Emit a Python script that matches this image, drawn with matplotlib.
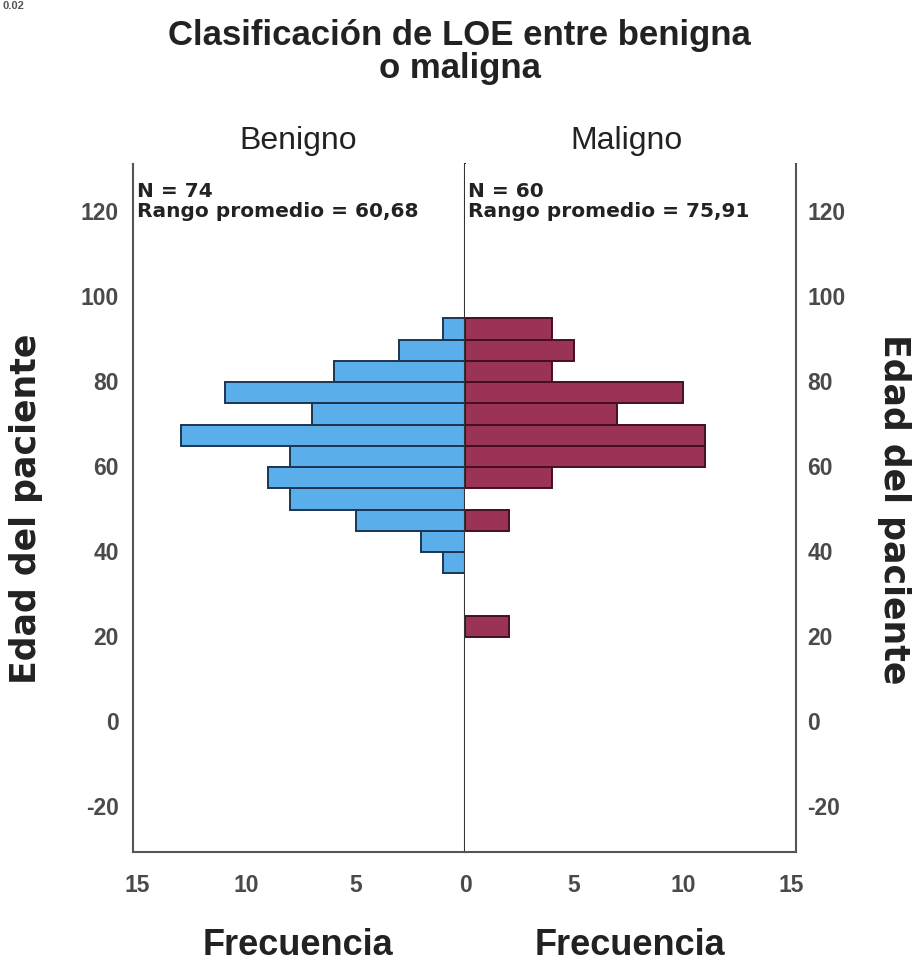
import numpy as np
import matplotlib
matplotlib.use("Agg")
import matplotlib.pyplot as plt

# Population pyramid: age of patient by LOE classification (benign vs malignant)
# bins are 5 years wide, centers below
bin_centers = [22, 27, 32, 37, 42, 47, 52, 57, 62, 67, 72, 77, 82, 87, 92]
benigno = [0, 0, 0, 1, 2, 5, 8, 9, 8, 13, 7, 11, 6, 3, 1]
maligno = [2, 0, 0, 0, 0, 2, 0, 4, 11, 11, 7, 10, 4, 5, 4]

y_ticks = [-20, 0, 20, 40, 60, 80, 100, 120]
x_ticks_left = [15, 10, 5, 0]
x_ticks_right = [5, 10, 15]

stats_benigno = ("N = 74", "Rango promedio = 60,68")
stats_maligno = ("N = 60", "Rango promedio = 75,91")

BLUE = "#5aaeea"
BLUE_EDGE = "#1c3550"
RED = "#9a3356"
RED_EDGE = "#45101f"
AXIS_COLOR = "#555555"
TICK_COLOR = "#4a4a4a"
TEXT_COLOR = "#222222"

plt.rcParams["font.family"] = ["Liberation Sans", "DejaVu Sans"]
plt.rcParams["axes.unicode_minus"] = False
WIDE = ["DejaVu Sans"]

fig = plt.figure(figsize=(9.19, 9.70), dpi=100)
ax_l = fig.add_axes([0.1447, 0.1206, 0.3613, 0.7093])
ax_r = fig.add_axes([0.5060, 0.1206, 0.3602, 0.7093])

bin_w = 5
ylim = (-31, 130.8)


def nonzero(centers, counts):
    # skip empty bins so no zero-width outline is drawn
    pairs = [(c, v) for c, v in zip(centers, counts) if v > 0]
    return [p[0] for p in pairs], [p[1] for p in pairs]


yb, vb = nonzero(bin_centers, benigno)
ym, vm = nonzero(bin_centers, maligno)
ax_l.barh(yb, vb, height=bin_w, color=BLUE, edgecolor=BLUE_EDGE, linewidth=1.4)
ax_r.barh(ym, vm, height=bin_w, color=RED, edgecolor=RED_EDGE, linewidth=1.4)

for ax in (ax_l, ax_r):
    ax.set_ylim(*ylim)
    ax.set_yticks(y_ticks)
    ax.spines["top"].set_visible(False)
    for s in ("left", "right", "bottom"):
        ax.spines[s].set_color(AXIS_COLOR)
        ax.spines[s].set_linewidth(1.5)
    ax.tick_params(length=0, labelsize=16.5, labelcolor=TICK_COLOR)
    ax.tick_params(axis="x", pad=15)

ax_l.set_xlim(15.2, 0)
ax_l.set_xticks(x_ticks_left)
ax_l.yaxis.set_ticks_position("left")
ax_l.tick_params(axis="y", pad=10)
ax_l.spines["right"].set_color("#333333")

ax_r.set_xlim(0, 15.2)
ax_r.set_xticks(x_ticks_right)
ax_r.yaxis.tick_right()
ax_r.tick_params(axis="y", pad=8)
ax_r.spines["left"].set_visible(False)

for ax in (ax_l, ax_r):
    for lbl in ax.get_xticklabels() + ax.get_yticklabels():
        lbl.set_fontweight("bold")

# N / mean rank annotations
for ax, x0, (n_txt, r_txt) in ((ax_l, 0.012, stats_benigno), (ax_r, 0.01, stats_maligno)):
    ax.text(x0, 0.962, n_txt, transform=ax.transAxes, ha="left", va="center",
            fontsize=14.5, fontweight="bold", color=TEXT_COLOR, family=WIDE)
    ax.text(x0, 0.932, r_txt, transform=ax.transAxes, ha="left", va="center",
            fontsize=14.5, fontweight="bold", color=TEXT_COLOR, family=WIDE)

# panel titles
fig.text(0.324, 0.855, "Benigno", ha="center", va="center", fontsize=23, color=TEXT_COLOR)
fig.text(0.682, 0.855, "Maligno", ha="center", va="center", fontsize=23, color=TEXT_COLOR)

# main title, two centred lines
fig.text(0.5, 0.9535, "Clasificación de LOE entre benigna", ha="center", va="baseline",
         fontsize=25, fontweight="bold", color=TEXT_COLOR)
fig.text(0.5, 0.9195, "o maligna", ha="center", va="baseline",
         fontsize=25, fontweight="bold", color=TEXT_COLOR)

# axis labels
fig.text(0.028, 0.475, "Edad del paciente", rotation=90, ha="center", va="center",
         fontsize=25, fontweight="bold", color=TEXT_COLOR, family=WIDE)
fig.text(0.973, 0.475, "Edad del paciente", rotation=270, ha="center", va="center",
         fontsize=25, fontweight="bold", color=TEXT_COLOR, family=WIDE)
fig.text(0.324, 0.025, "Frecuencia", ha="center", va="center",
         fontsize=26, fontweight="bold", color=TEXT_COLOR)
fig.text(0.6855, 0.025, "Frecuencia", ha="center", va="center",
         fontsize=26, fontweight="bold", color=TEXT_COLOR)

# small fragment at the top-left corner of the original screenshot
fig.text(0.003, 0.999, "0.02", ha="left", va="top", fontsize=8,
         fontweight="bold", color="#555555")

fig.savefig("out.png", dpi=100)
